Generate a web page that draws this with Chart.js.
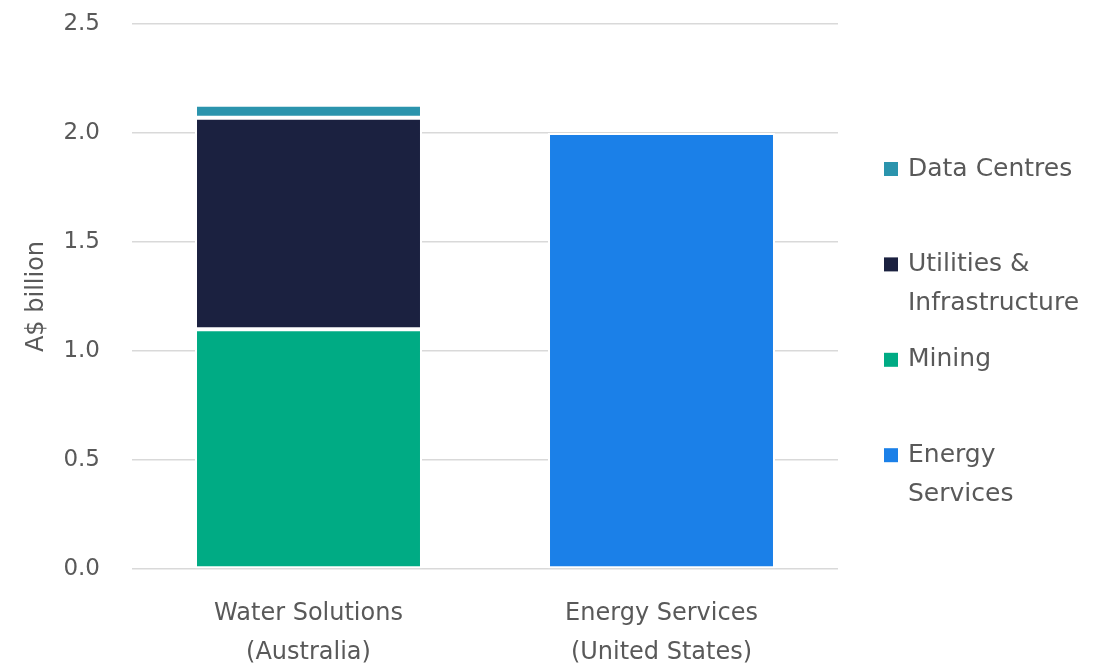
<!DOCTYPE html>
<html>
<head>
<meta charset="utf-8">
<script src="https://cdn.jsdelivr.net/npm/chart.js@4.4.1/dist/chart.umd.min.js"></script>
<style>
  html, body { margin: 0; padding: 0; background: #ffffff; }
  #wrap { position: relative; width: 1114px; height: 670px; }
</style>
</head>
<body>
<div id="wrap"><canvas id="c"></canvas></div>
<script>
const categories = [["Water Solutions", "(Australia)"], ["Energy Services", "(United States)"]];
const mining = [1.10, null];
const utilities = [0.97, null];
const dataCentres = [0.06, null];
const energyServices = [null, 2.00];
const seriesNames = ["Mining", ["Utilities &", "Infrastructure"], "Data Centres", ["Energy", "Services"]];
const seriesColors = ["#00ab84", "#1b2140", "#2b94ad", "#1b80e8"];
const legendOrder = [2, 1, 0, 3];
const yTitle = "A$ billion";

const FONT = "'DejaVu Sans', sans-serif";
const TEXT = "#595959";

const legendPlugin = {
  id: "sideLegend",
  afterDraw(chart) {
    const ctx = chart.ctx;
    const area = chart.chartArea;
    ctx.save();
    ctx.font = "25px " + FONT;
    ctx.textBaseline = "middle";
    legendOrder.forEach((idx, i) => {
      const y = 169 + i * 95.4;
      const x = area.right + 46;
      ctx.fillStyle = seriesColors[idx];
      ctx.fillRect(x, y - 7, 14, 14);
      ctx.fillStyle = TEXT;
      const lines = Array.isArray(seriesNames[idx]) ? seriesNames[idx] : [seriesNames[idx]];
      lines.forEach((ln, j) => ctx.fillText(ln, x + 24, y + j * 39));
    });
    ctx.restore();
  }
};

const datasets = [mining, utilities, dataCentres, energyServices].map((d, i) => ({
  label: Array.isArray(seriesNames[i]) ? seriesNames[i].join(" ") : seriesNames[i],
  data: d,
  backgroundColor: seriesColors[i],
  borderColor: "#ffffff",
  borderWidth: 2,
  borderSkipped: false,
  barPercentage: 0.643,
  categoryPercentage: 1.0
}));

new Chart(document.getElementById("c"), {
  type: "bar",
  data: { labels: categories, datasets },
  options: {
    responsive: true,
    maintainAspectRatio: false,
    animation: false,
    layout: { padding: { left: 0, right: 276, top: 24, bottom: 0 } },
    plugins: { legend: { display: false }, tooltip: { enabled: false } },
    scales: {
      x: {
        stacked: true,
        grid: { display: false },
        border: { display: false },
        ticks: { color: TEXT, font: { family: FONT, size: 24, lineHeight: 1.625 }, padding: 17, maxRotation: 0 },
        afterFit(s) { s.height = 101; }
      },
      y: {
        stacked: true,
        min: 0, max: 2.5,
        ticks: {
          stepSize: 0.5, color: TEXT, padding: 32,
          font: { family: FONT, size: 23 },
          callback: v => Number(v).toFixed(1)
        },
        grid: { color: "#d9d9d9", lineWidth: 1.5, drawTicks: false },
        border: { display: false },
        title: { display: true, text: yTitle, color: TEXT, font: { family: FONT, size: 24 }, padding: { top: 22, bottom: 0 } },
        afterFit(s) { s.width = 132; s.paddingTop = 0; s.paddingBottom = 0; }
      }
    }
  },
  plugins: [legendPlugin]
});
</script>
</body>
</html>
